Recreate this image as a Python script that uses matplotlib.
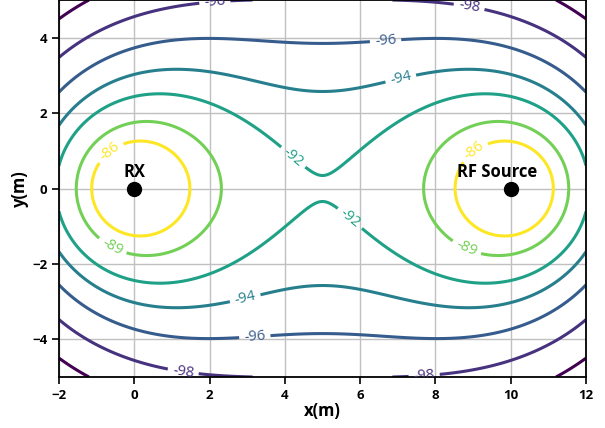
import numpy as np
import matplotlib.pyplot as plt

plt.rcParams['font.family'] = ['Open Sans', 'DejaVu Sans']
plt.rcParams['font.weight'] = 'bold'
plt.rcParams['axes.labelweight'] = 'bold'

# positions of the two nodes (m)
rx_pos = (0.0, 0.0)
src_pos = (10.0, 0.0)
node_names = ['RX', 'RF Source']

# received backscatter power: p0 - 20log10(d_src * d_rx)
p0_dbm = -64.0
levels = [-100, -98, -96, -94, -92, -89, -86]

# where the contour labels sit
label_spots = [(-0.72, 1.07), (8.97, 1.07), (-0.59, -1.55), (8.84, -1.55),
               (4.27, 0.89), (5.73, -0.79), (7.06, 3.0), (2.94, -2.88),
               (6.67, 4.0), (3.2, -3.9), (2.14, 4.95), (8.9, 4.85),
               (1.3, -4.85), (7.7, -4.95)]

x = np.linspace(-2, 12, 701)
y = np.linspace(-5, 5, 501)
X, Y = np.meshgrid(x, y)
d_rx = np.clip(np.hypot(X - rx_pos[0], Y - rx_pos[1]), 1e-3, None)
d_src = np.clip(np.hypot(X - src_pos[0], Y - src_pos[1]), 1e-3, None)
P = p0_dbm - 20 * np.log10(d_rx * d_src)

fig = plt.figure(figsize=(6.05, 4.28), dpi=100)
ax = fig.add_axes([59 / 605, 51 / 428, 527 / 605, 377 / 428])

cs = ax.contour(X, Y, P, levels=levels, cmap='viridis', linewidths=2.2, zorder=2)
labels = ax.clabel(cs, fmt='%d', fontsize=10.5, manual=label_spots, inline=True)
for t in labels:
    t.set_fontweight('normal')

ax.plot([rx_pos[0], src_pos[0]], [rx_pos[1], src_pos[1]], 'o', color='black',
        markersize=10, zorder=4)
ax.text(rx_pos[0], 0.3, node_names[0], ha='center', va='baseline',
        fontsize=12, fontweight='bold', zorder=5)
ax.text(src_pos[0] - 0.37, 0.3, node_names[1], ha='center', va='baseline',
        fontsize=12, fontweight='bold', zorder=5)

ax.set_xlim(-2, 12)
ax.set_ylim(-5, 5)
ax.set_xticks(np.arange(-2, 13, 2))
ax.set_yticks(np.arange(-4, 5, 2))
ax.grid(True, color='#c0c0c0', linewidth=1.0, zorder=0)
ax.set_axisbelow(True)
ax.tick_params(direction='out', length=5, width=1.2, labelsize=9.5)
for sp in ax.spines.values():
    sp.set_linewidth(1.3)
ax.set_xlabel('x(m)', fontsize=12, labelpad=0)
ax.set_ylabel('y(m)', fontsize=12, labelpad=2)

fig.savefig('out.png', dpi=100)
